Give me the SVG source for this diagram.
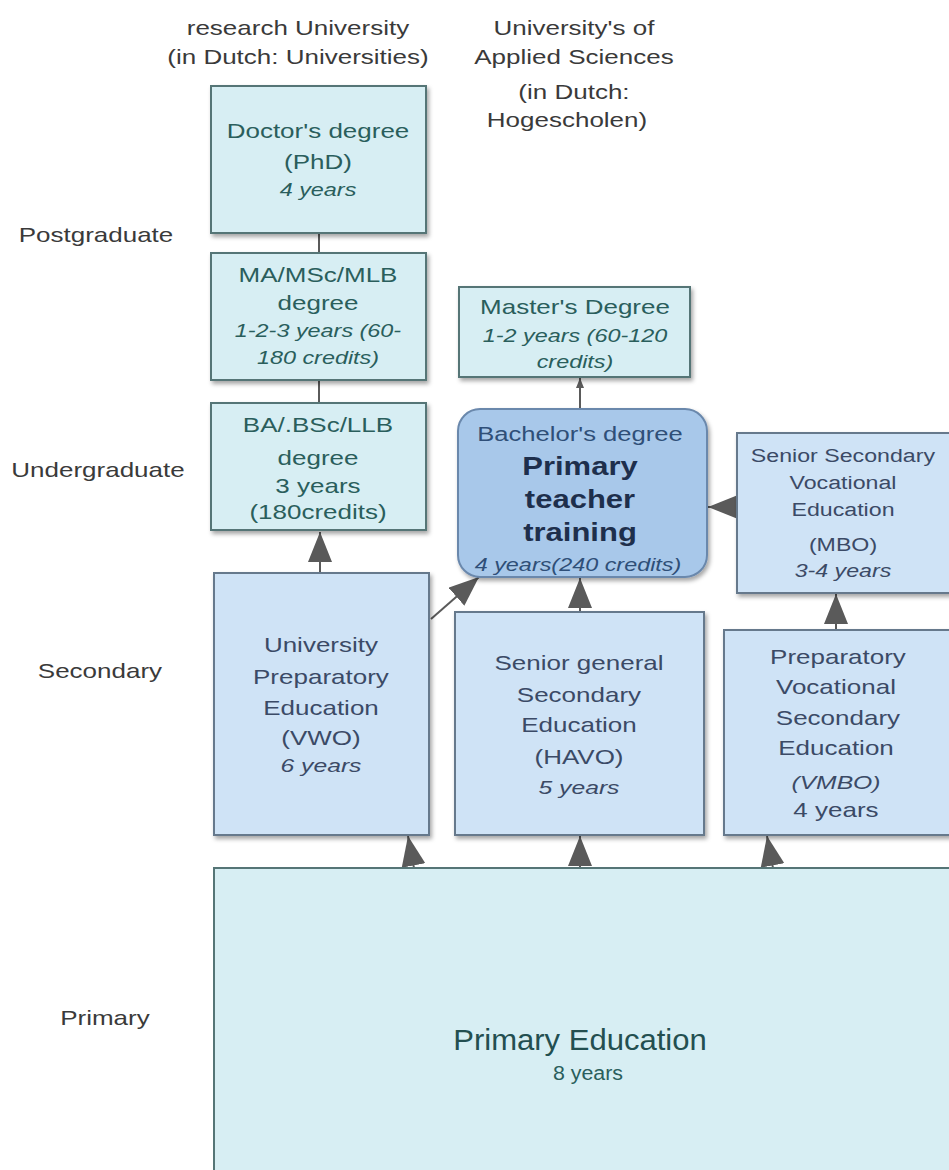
<svg xmlns="http://www.w3.org/2000/svg" width="949" height="1170" viewBox="0 0 949 1170">
<style>
text{font-family:"Liberation Sans",Arial,sans-serif;text-anchor:middle;font-size:20px;transform-box:fill-box;transform-origin:center;transform:scaleX(1.3)}
.lbl{fill:#3a3a3a}
.teal rect{fill:#d7eef3;stroke:#557576;stroke-width:2}
.teal text{fill:#2a5e5c}
.blue rect{fill:#cfe3f6;stroke:#66798c;stroke-width:2}
.blue text{fill:#3b4a66}
.it{font-style:italic;font-size:18px}
.mbo text{font-size:19px;transform:scaleX(1.22)}
.bold{font-size:25px;font-weight:bold;fill:#1e2f4c;transform:scaleX(1.24)}
.big{transform:scaleX(1.07)}
.con line{stroke:#5a5a5a;stroke-width:2}
.head{fill:#5a5a5a}
</style>
<defs>
<filter id="sh" x="-5%" y="-5%" width="115%" height="115%">
<feDropShadow dx="2" dy="3" stdDeviation="2" flood-color="#000" flood-opacity="0.35"/>
</filter>
<marker id="ah" viewBox="0 0 30 24" refX="30" refY="12" markerWidth="30" markerHeight="24" markerUnits="userSpaceOnUse" orient="auto">
<path d="M0,0 L30,12 L0,24 z" class="head"/>
</marker>
<marker id="as" viewBox="0 0 10 8" refX="10" refY="4" markerWidth="10" markerHeight="8" markerUnits="userSpaceOnUse" orient="auto">
<path d="M0,0 L10,4 L0,8 z" class="head"/>
</marker>
</defs>

<g id="headers">
<text class="lbl" x="298" y="35">research University</text>
<text class="lbl" x="298" y="64">(in Dutch: Universities)</text>
<text class="lbl" x="574" y="35">University's of</text>
<text class="lbl" x="574" y="64">Applied Sciences</text>
<text class="lbl" x="574" y="99">(in Dutch:</text>
<text class="lbl" x="567" y="127">Hogescholen)</text>
<text class="lbl" x="96" y="242">Postgraduate</text>
<text class="lbl" x="98" y="477">Undergraduate</text>
<text class="lbl" x="100" y="678">Secondary</text>
<text class="lbl" x="105" y="1025">Primary</text>
</g>

<g id="connectors" class="con">
<line x1="319" y1="233" x2="319" y2="253"/>
<line x1="319" y1="380" x2="319" y2="403"/>
<line x1="320" y1="573" x2="320" y2="532" marker-end="url(#ah)"/>
<line x1="580" y1="408" x2="580" y2="378" marker-end="url(#as)"/>
<line x1="737" y1="507" x2="708" y2="507" marker-end="url(#ah)"/>
<line x1="431" y1="619" x2="479" y2="577" marker-end="url(#ah)"/>
<line x1="580" y1="612" x2="580" y2="578" marker-end="url(#ah)"/>
<line x1="836" y1="630" x2="836" y2="594" marker-end="url(#ah)"/>
<line x1="414" y1="868" x2="408" y2="836" marker-end="url(#ah)"/>
<line x1="580" y1="868" x2="580" y2="836" marker-end="url(#ah)"/>
<line x1="773" y1="868" x2="767" y2="836" marker-end="url(#ah)"/>
</g>

<g id="phd" class="teal">
<rect x="211" y="86" width="215" height="147" filter="url(#sh)"/>
<text x="318" y="138">Doctor's degree</text>
<text x="318" y="169">(PhD)</text>
<text x="318" y="196" class="it">4 years</text>
</g>

<g id="master-uni" class="teal">
<rect x="211" y="253" width="215" height="127" filter="url(#sh)"/>
<text x="318" y="282">MA/MSc/MLB</text>
<text x="318" y="310">degree</text>
<text x="318" y="337" class="it">1-2-3 years (60-</text>
<text x="318" y="364" class="it">180 credits)</text>
</g>

<g id="bachelor-uni" class="teal">
<rect x="211" y="403" width="215" height="127" filter="url(#sh)"/>
<text x="318" y="432">BA/.BSc/LLB</text>
<text x="318" y="465">degree</text>
<text x="318" y="493">3 years</text>
<text x="318" y="519">(180credits)</text>
</g>

<g id="master-hbo" class="teal">
<rect x="459" y="287" width="231" height="90" filter="url(#sh)"/>
<text x="575" y="314">Master's Degree</text>
<text x="575" y="342" class="it">1-2 years (60-120</text>
<text x="575" y="368" class="it">credits)</text>
</g>

<g id="bachelor-hbo">
<rect x="458" y="409" width="249" height="168" rx="22" ry="22" fill="#a8c8ea" stroke="#6a88ac" stroke-width="2" filter="url(#sh)"/>
<text x="580" y="441" style="fill:#2f4f78;transform:scaleX(1.28)">Bachelor's degree</text>
<text x="580" y="475" class="bold">Primary</text>
<text x="580" y="508" class="bold">teacher</text>
<text x="580" y="541" class="bold">training</text>
<text x="578" y="571" class="it" style="fill:#2f4f78">4 years(240 credits)</text>
</g>

<g id="mbo" class="blue mbo">
<rect x="737" y="433" width="222" height="160" filter="url(#sh)"/>
<text x="843" y="462">Senior Secondary</text>
<text x="843" y="489">Vocational</text>
<text x="843" y="516">Education</text>
<text x="843" y="551">(MBO)</text>
<text x="843" y="577" class="it">3-4 years</text>
</g>

<g id="vwo" class="blue">
<rect x="214" y="573" width="215" height="262" filter="url(#sh)"/>
<text x="321" y="652">University</text>
<text x="321" y="684">Preparatory</text>
<text x="321" y="715">Education</text>
<text x="321" y="745">(VWO)</text>
<text x="321" y="772" class="it" style="font-size:19px">6 years</text>
</g>

<g id="havo" class="blue">
<rect x="455" y="612" width="249" height="223" filter="url(#sh)"/>
<text x="579" y="670">Senior general</text>
<text x="579" y="702">Secondary</text>
<text x="579" y="732">Education</text>
<text x="579" y="764">(HAVO)</text>
<text x="579" y="794" class="it" style="font-size:19px">5 years</text>
</g>

<g id="vmbo" class="blue">
<rect x="724" y="630" width="235" height="205" filter="url(#sh)"/>
<text x="838" y="664">Preparatory</text>
<text x="836" y="694">Vocational</text>
<text x="838" y="725">Secondary</text>
<text x="836" y="755">Education</text>
<text x="836" y="789" class="it" style="font-size:19px">(VMBO)</text>
<text x="836" y="817">4 years</text>
</g>

<g id="primary" class="teal">
<rect x="214" y="868" width="745" height="312"/>
<text x="580" y="1050" class="big" style="font-size:29px;fill:#234f50">Primary Education</text>
<text x="588" y="1080" class="big">8 years</text>
</g>
</svg>
